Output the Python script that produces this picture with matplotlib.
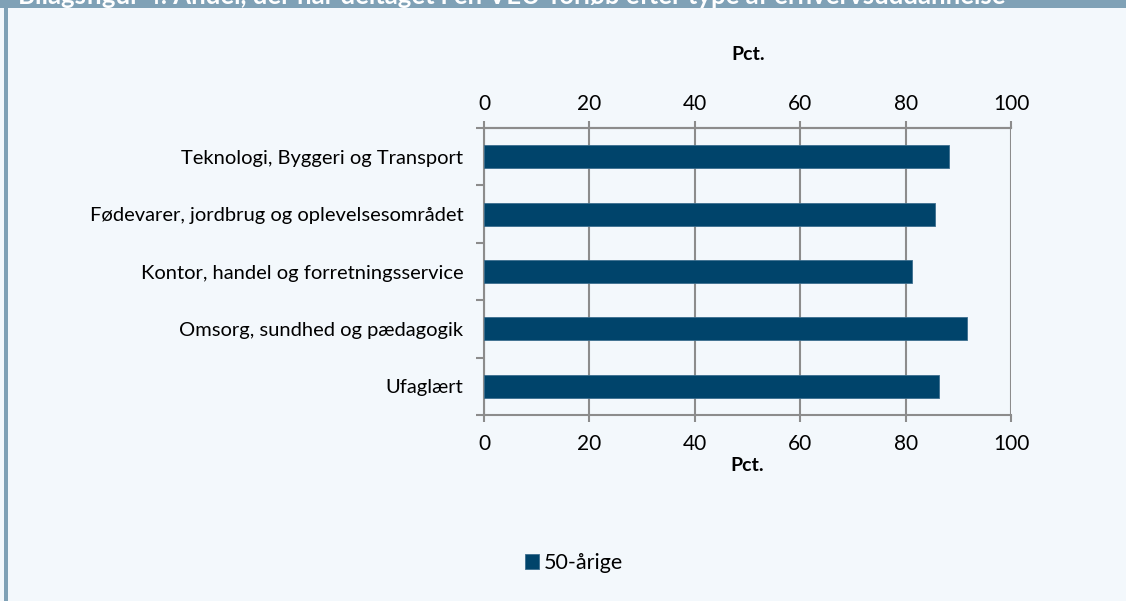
import matplotlib
matplotlib.use("Agg")
from matplotlib import pyplot as plt
from matplotlib.patches import Rectangle
import numpy as np

# data
kategorier = ['Teknologi, Byggeri og Transport',
              'Fødevarer, jordbrug og oplevelsesområdet',
              'Kontor, handel og forretningsservice',
              'Omsorg, sundhed og pædagogik',
              'Ufaglært']
andel = [88.2, 85.6, 81.3, 91.7, 86.4]
serie_navn = '50-årige'
x_ticks = [0, 20, 40, 60, 80, 100]
titel = 'Bilagsfigur 4. Andel, der har deltaget i en VEU-forløb efter type af erhvervsuddannelse'

plt.rcParams['font.family'] = ['Lato', 'DejaVu Sans']

baggrund = '#F3F8FC'
ramme = '#7FA1B6'
bar_farve = '#00446B'
gitter = '#8C8C8C'

W, H = 1126, 601
fig = plt.figure(figsize=(W / 100, H / 100), dpi=100, facecolor=baggrund)

# header band and left strip
fig.patches.append(Rectangle((0, 1 - 8 / H), 1, 8 / H, transform=fig.transFigure,
                             facecolor=ramme, edgecolor='none', zorder=0))
fig.patches.append(Rectangle((4 / W, 0), 4 / W, 1, transform=fig.transFigure,
                             facecolor=ramme, edgecolor='none', zorder=0))
fig.text(18 / W, 1 - 4 / H, titel, color='white', fontweight='bold',
         fontsize=18.5, ha='left', va='baseline')

ax = fig.add_axes([484 / W, 1 - 415 / H, (1011 - 484) / W, (415 - 128) / H])
ax.set_facecolor(baggrund)

y = np.arange(len(kategorier))
ax.barh(y, andel, height=0.4, color=bar_farve, edgecolor='#3C6E8E', linewidth=0.6,
        label=serie_navn, zorder=3)

ax.set_xlim(0, 100)
ax.set_ylim(len(kategorier) - 0.5, -0.5)
ax.set_xticks(x_ticks)
ax.set_yticks(y)
ax.set_yticklabels(kategorier)
ax.set_yticks(np.arange(-0.5, len(kategorier)), minor=True)

ax.grid(axis='x', color=gitter, linewidth=1.5, zorder=1)
ax.tick_params(axis='x', direction='out', length=5, width=1.5, color=gitter,
               labelsize=15, pad=9)
ax.tick_params(axis='y', which='major', length=0, labelsize=14.5, pad=15)
ax.tick_params(axis='y', which='minor', length=6, width=1.5, color=gitter)

# top axis with its own pad
top = ax.secondary_xaxis('top')
top.set_xticks(x_ticks)
top.tick_params(direction='out', length=5, width=1.5, color=gitter, labelsize=15, pad=5)
top.spines['top'].set_color(gitter)
top.spines['top'].set_linewidth(1.5)

for s in ['left', 'top', 'bottom']:
    ax.spines[s].set_color(gitter)
    ax.spines[s].set_linewidth(1.5)
ax.spines['right'].set_visible(False)

ax.set_xlabel('Pct.', fontweight='bold', fontsize=14, labelpad=2)
fig.text(748 / W, 1 - 55 / H, 'Pct.', fontweight='bold', fontsize=14,
         ha='center', va='center')

fig.legend(loc='center', bbox_to_anchor=(574 / W, 1 - 563 / H), frameon=False,
           fontsize=15.5, handlelength=0.65, handleheight=0.65, handletextpad=0.25)

plt.savefig('out.png', dpi=100, facecolor=baggrund)
